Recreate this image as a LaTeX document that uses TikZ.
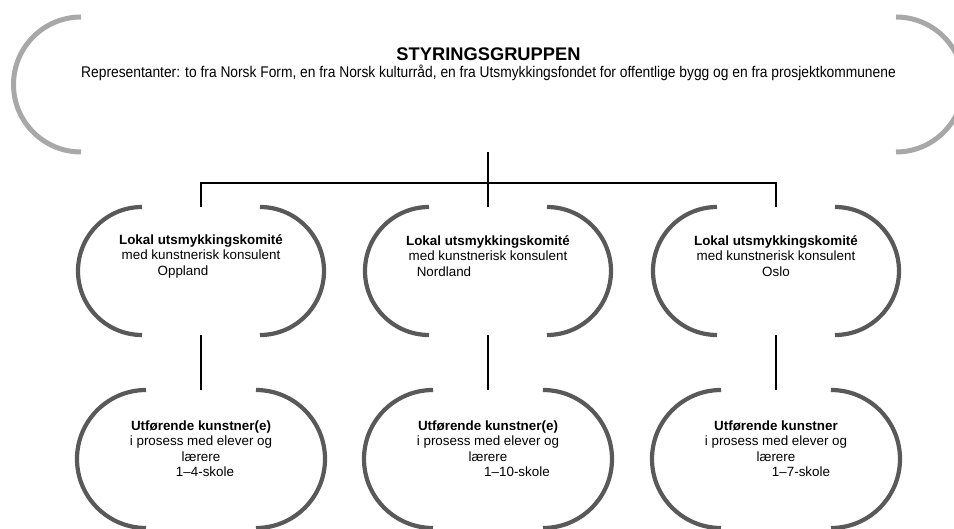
\documentclass[tikz,border=0pt]{standalone}
\usepackage{fontspec}
\setmainfont{Liberation Sans}
\newfontfamily\narrowfont[FakeStretch=0.89]{Liberation Sans}
\usepackage{xcolor}
\usetikzlibrary{positioning}
\definecolor{arcgrey}{HTML}{A8A8A8}
\definecolor{darkgrey}{HTML}{595959}

\begin{document}
\begin{tikzpicture}[x=1pt, y=1pt, node distance=287.5pt,
  styrebox/.style={align=center, inner sep=0pt, font=\narrowfont\fontsize{15.5}{17}\selectfont},
  komitebox/.style={align=center, inner sep=0pt, font=\fontsize{13.4}{15.5}\selectfont},
  lightarc/.style={draw=arcgrey, line width=5pt},
  darkarc/.style={draw=darkgrey, line width=4.2pt},
  connector/.style={draw=black, line width=1.3pt}]

\useasboundingbox (0,0) rectangle (954,528);
\clip (0,0) rectangle (954,528);

% steering group
\node[styrebox] (styr) at (488.5,464) {{\rmfamily\bfseries\fontsize{18.3}{22}\selectfont STYRINGSGRUPPEN}\\Representanter: to fra Norsk Form, en fra Norsk kulturråd, en fra Utsmykkingsfondet for offentlige bygg og en fra prosjektkommunene};
\draw[lightarc] ([shift={(-407.5pt,47pt)}]styr.center) arc[start angle=90, end angle=270, radius=67.5pt];
\draw[lightarc] ([shift={(407.5pt,-88pt)}]styr.center) arc[start angle=-90, end angle=90, radius=67.5pt];

% local committees
\node[komitebox] (opp) at (201,272) {{\bfseries Lokal utsmykkingskomité}\\med kunstnerisk konsulent\\Oppland\hspace*{36pt}};
\node[komitebox, right of=opp, node distance=287pt] (nor) {{\bfseries Lokal utsmykkingskomité}\\med kunstnerisk konsulent\\Nordland\hspace*{88pt}};
\node[komitebox, right of=nor, node distance=288pt] (osl) {{\bfseries Lokal utsmykkingskomité}\\med kunstnerisk konsulent\\Oslo};

% artists
\node[komitebox, below of=opp, node distance=192.5pt] (ut1) {{\bfseries Utførende kunstner(e)}\\i prosess med elever og\\lærere\\\hspace*{8pt}1–4-skole};
\node[komitebox, below of=nor, node distance=192.5pt] (ut2) {{\bfseries Utførende kunstner(e)}\\i prosess med elever og\\lærere\\\hspace*{58pt}1–10-skole};
\node[komitebox, below of=osl, node distance=192.5pt] (ut3) {{\bfseries Utførende kunstner}\\i prosess med elever og\\lærere\\\hspace*{50pt}1–7-skole};

\foreach \n in {opp,nor,osl} {
  \coordinate (\n-t) at ([yshift=49pt]\n.center);
  \coordinate (\n-b) at ([yshift=-79pt]\n.center);
  \draw[darkarc] ([shift={(-59pt,49pt)}]\n.center) arc[start angle=90, end angle=270, radius=64pt];
  \draw[darkarc] ([shift={(59pt,-79pt)}]\n.center) arc[start angle=-90, end angle=90, radius=64pt];
}
\foreach \n in {ut1,ut2,ut3} {
  \coordinate (\n-t) at ([yshift=58.5pt]\n.center);
  \draw[darkarc] ([shift={(-55pt,58.5pt)}]\n.center) arc[start angle=90, end angle=270, radius=69pt];
  \draw[darkarc] ([shift={(55pt,-79.5pt)}]\n.center) arc[start angle=-90, end angle=90, radius=69pt];
}

% connectors
\coordinate (styr-b) at ([yshift=-88pt]styr.center -| nor.center);
\coordinate (buss) at ([yshift=24pt]nor-t);
\draw[connector, line width=2pt] (styr-b) -- (buss);
\draw[connector] (opp-t) |- (buss) -| (osl-t);
\draw[connector] (nor-t) -- (buss);
\foreach \a/\b in {opp/ut1, nor/ut2, osl/ut3}
  \draw[connector] (\a-b) -- (\b-t);

\end{tikzpicture}
\end{document}
